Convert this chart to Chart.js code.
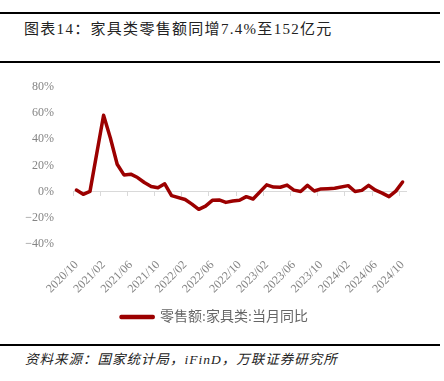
<!DOCTYPE html>
<html>
<head>
<meta charset="utf-8">
<script src="https://cdn.jsdelivr.net/npm/chart.js@4.4.1/dist/chart.umd.min.js"></script>
<style>
  body { margin: 0; width: 444px; height: 381px; background: #fff; position: relative; overflow: hidden; }
  .rule { position: absolute; left: 0; width: 440px; height: 2px; background: #000; }
  .title { position: absolute; left: 24px; top: 17px; font: 15px 'Liberation Serif', 'Noto Sans CJK SC', serif; letter-spacing: 1.3px; color: #222; white-space: nowrap; }
  .source { position: absolute; left: 25px; top: 348px; font: italic 13.5px 'Liberation Serif', 'Noto Sans CJK SC', serif; letter-spacing: 1px; color: #222; white-space: nowrap; }
  #wrap { position: absolute; left: 0; top: 64px; width: 444px; height: 278px; }
</style>
</head>
<body>
<div class="rule" style="top:12px"></div>
<div class="title">图表14：家具类零售额同增7.4%至152亿元</div>
<div class="rule" style="top:61px"></div>
<div id="wrap"><canvas id="chart"></canvas></div>
<div class="rule" style="top:344px"></div>
<div class="source">资料来源：国家统计局，iFinD，万联证券研究所</div>
<script>
months = [
  "2020/10", "2020/11", "2020/12",
  "2021/01", "2021/02", "2021/03", "2021/04", "2021/05", "2021/06",
  "2021/07", "2021/08", "2021/09", "2021/10", "2021/11", "2021/12",
  "2022/01", "2022/02", "2022/03", "2022/04", "2022/05", "2022/06",
  "2022/07", "2022/08", "2022/09", "2022/10", "2022/11", "2022/12",
  "2023/01", "2023/02", "2023/03", "2023/04", "2023/05", "2023/06",
  "2023/07", "2023/08", "2023/09", "2023/10", "2023/11", "2023/12",
  "2024/01", "2024/02", "2024/03", "2024/04", "2024/05", "2024/06",
  "2024/07", "2024/08", "2024/09", "2024/10"
];

// 当月同比 (%)，1月无单独数据
furnitureYoY = [
  1.2, -2.0, 0.2,
  null, 58.4, 41.0, 21.0, 12.8, 13.4,
  10.8, 7.0, 4.0, 3.0, 6.0, -3.0,
  null, -6.0, -9.5, -13.5, -11.0, -6.6,
  -6.3, -8.2, -7.2, -6.6, -3.8, -5.6,
  null, 5.2, 3.5, 3.4, 5.0, 1.2,
  0.1, 4.8, 0.5, 2.1, 2.3, 2.6,
  null, 4.6, 0.1, 1.0, 4.8, 1.1,
  -1.1, -3.8, 0.4, 7.4
];

yTicks = [-40, -20, 0, 20, 40, 60, 80];
labelEvery = 4;

const gray = "#858585";
const serif = "'Liberation Serif', 'Noto Sans CJK SC', serif";

new Chart("chart", {
  type: "line",
  data: {
    labels: months,
    datasets: [{
      label: "零售额:家具类:当月同比",
      data: furnitureYoY,
      borderColor: "#9c0000",
      backgroundColor: "#9c0000",
      borderWidth: 3.5,
      pointRadius: 0,
      tension: 0,
      spanGaps: true,
      borderJoinStyle: "round",
      borderCapStyle: "round"
    }]
  },
  options: {
    responsive: true,
    maintainAspectRatio: false,
    animation: false,
    layout: { padding: { left: 23, right: 38, top: 23, bottom: 8 } },
    plugins: {
      tooltip: { enabled: false },
      legend: {
        position: "bottom",
        labels: {
          boxWidth: 32,
          boxHeight: 1,
          color: "#666666",
          padding: 8,
          font: { family: serif, size: 14 }
        }
      }
    },
    scales: {
      // zero line with short tick marks
      x: {
        type: "category",
        position: { y: 0 },
        offset: true,
        ticks: { display: false },
        grid: {
          offset: true,
          drawOnChartArea: false,
          drawTicks: true,
          tickLength: 4,
          color: (c) => (c.index % labelEvery === 0 ? "#d9d9d9" : "rgba(0,0,0,0)")
        },
        border: { color: "#d9d9d9", width: 1 }
      },
      // labels at the bottom
      x2: {
        type: "category",
        position: "bottom",
        offset: true,
        grid: { display: false },
        border: { display: false },
        ticks: {
          autoSkip: false,
          maxRotation: 45,
          minRotation: 45,
          padding: 6,
          color: gray,
          font: { family: serif, size: 12 },
          callback: (v, i) => (i % labelEvery === 0 ? months[i] : "")
        }
      },
      y: {
        min: yTicks[0],
        max: yTicks[yTicks.length - 1],
        afterFit: (s) => { s.width = 50; },
        afterBuildTicks: (s) => { s.ticks = yTicks.map((v) => ({ value: v })); },
        grid: { display: false },
        border: { display: false },
        ticks: {
          padding: 11,
          color: gray,
          font: { family: serif, size: 12 },
          callback: (v) => (v < 0 ? "−" + Math.abs(v) : v) + "%"
        }
      }
    }
  }
});
</script>
</body>
</html>
